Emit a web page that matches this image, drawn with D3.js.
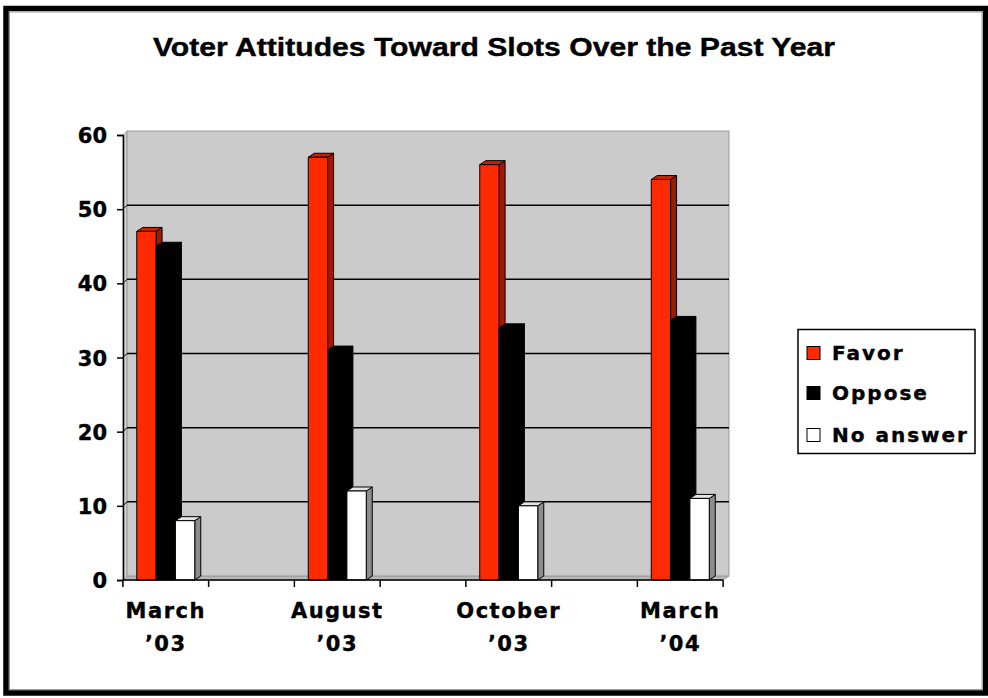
<!DOCTYPE html>
<html>
<head>
<meta charset="utf-8">
<script src="https://cdn.jsdelivr.net/npm/d3@7"></script>
<style>
	body { margin: 0; background: #fff; }
	text { font-family: "DejaVu Sans", sans-serif; font-weight: bold; fill: #000; stroke: #000; stroke-width: 0.4px; }
</style>
</head>
<body>
<svg id="main-svg" width="988" height="698"></svg>
<script>
// chart data
const categories = ['March|\u201903', 'August|\u201903', 'October|\u201903', 'March|\u201904'];
const seriesNames = ['Favor', 'Oppose', 'No answer'];
const favor = [47, 57, 56, 54];
const oppose = [45, 31, 34, 35];
const noAnswer = [8, 12, 10, 11];
const yTicks = [0, 10, 20, 30, 40, 50, 60];

const seriesValues = [favor, oppose, noAnswer];
const front = ['#ff2a00', '#000000', '#ffffff'];
const side = ['#a01a00', '#000000', '#8c8c8c'];
const top_ = ['#c82000', '#000000', '#e4e4e4'];

const svg = d3.select('#main-svg');

// outer frame
svg.append('rect')
	.attr('x', 6).attr('y', 8.5).attr('width', 979.5).attr('height', 684.5)
	.attr('fill', 'none').attr('stroke', '#000').attr('stroke-width', 5.5);
svg.append('rect')
	.attr('x', 9.5).attr('y', 12).attr('width', 972.5).attr('height', 677.5)
	.attr('fill', 'none').attr('stroke', '#999').attr('stroke-width', 1);

svg.append('text')
	.attr('x', 494).attr('y', 56)
	.attr('text-anchor', 'middle')
	.attr('font-size', 26)
	.style('font-family', '"Liberation Sans", Arial, sans-serif')
	.attr('textLength', 682).attr('lengthAdjust', 'spacingAndGlyphs')
	.text('Voter Attitudes Toward Slots Over the Past Year');

// scales
const y = d3.scaleLinear().domain([0, 60]).range([580, 135]);
const x = d3.scaleBand().domain(categories).range([80, 766]);
const inner = d3.scaleBand().domain(seriesNames).range([0, 58]);

const ax0 = 123, ax1 = 723;
const dx = 4, dy = -4;

// walls
const wall = svg.append('g');
wall.append('polygon') // floor
	.attr('points', [[ax0, y(0)], [ax1, y(0)], [ax1 + dx + 2, y(0) + dy], [ax0 + dx, y(0) + dy]].join(' '))
	.attr('fill', '#b8b8b8').attr('stroke', '#999').attr('stroke-width', 1);
wall.append('polygon') // left side wall
	.attr('points', [[ax0, y(0)], [ax0, y(60)], [ax0 + dx, y(60) + dy], [ax0 + dx, y(0) + dy]].join(' '))
	.attr('fill', '#d4d4d4').attr('stroke', '#aaa').attr('stroke-width', 1);
wall.append('rect') // back wall
	.attr('x', ax0 + dx).attr('y', y(60) + dy)
	.attr('width', ax1 + dx + 2 - (ax0 + dx)).attr('height', y(0) - y(60))
	.attr('fill', '#cbcbcb').attr('stroke', '#999').attr('stroke-width', 1);

// gridlines
const grid = yTicks.filter(v => v > 0 && v < 60);
wall.selectAll('.grid')
	.data(grid)
	.enter().append('line')
	.attr('x1', ax0 + dx).attr('x2', ax1 + dx + 2)
	.attr('y1', d => y(d) + dy).attr('y2', d => y(d) + dy)
	.attr('stroke', '#000').attr('stroke-width', 1.5);
wall.selectAll('.diag')
	.data(grid)
	.enter().append('line')
	.attr('x1', ax0).attr('x2', ax0 + dx)
	.attr('y1', d => y(d)).attr('y2', d => y(d) + dy)
	.attr('stroke', '#000').attr('stroke-width', 1);

// bars
const bars = svg.append('g');
categories.forEach((c, i) => {
	seriesNames.forEach((s, k) => {
		const v = seriesValues[k][i];
		const x0 = x(c) + (x.bandwidth() - inner.range()[1]) / 2 + inner(s);
		const w = inner.bandwidth();
		const yt = y(v), yb = y(0);
		const bdx = 6, bdy = -4;
		const g = bars.append('g').attr('stroke', '#000').attr('stroke-width', 1).attr('stroke-linejoin', 'round');
		g.append('polygon') // side
			.attr('points', [[x0 + w, yb], [x0 + w, yt], [x0 + w + bdx, yt + bdy], [x0 + w + bdx, yb + bdy]].join(' '))
			.attr('fill', side[k]);
		g.append('polygon') // top
			.attr('points', [[x0, yt], [x0 + w, yt], [x0 + w + bdx, yt + bdy], [x0 + bdx, yt + bdy]].join(' '))
			.attr('fill', top_[k]);
		g.append('rect') // front
			.attr('x', x0).attr('y', yt).attr('width', w).attr('height', yb - yt)
			.attr('fill', front[k]);
	});
});

// y axis
const yAxis = svg.append('g')
	.attr('transform', `translate(${ax0},0)`)
	.call(d3.axisLeft(y).tickValues(yTicks).tickSize(6).tickPadding(10));
yAxis.selectAll('path').attr('stroke', '#000').attr('stroke-width', 1.5);
yAxis.selectAll('line').attr('stroke', '#000').attr('stroke-width', 1.5);
yAxis.selectAll('text')
	.attr('font-size', 21)
	.style('font-family', '"DejaVu Sans", sans-serif')
	.style('font-weight', 'bold')
	.attr('dy', '0.36em');

// x axis
const xAxis = svg.append('g');
xAxis.append('line')
	.attr('x1', ax0).attr('x2', ax1).attr('y1', y(0)).attr('y2', y(0))
	.attr('stroke', '#000').attr('stroke-width', 1.5);
const xTicks = [];
categories.forEach(c => {
	xTicks.push(x(c) + x.bandwidth() / 4, x(c) + x.bandwidth() * 3 / 4);
});
xAxis.selectAll('.xt')
	.data(xTicks)
	.enter().append('line')
	.attr('x1', d => d).attr('x2', d => d)
	.attr('y1', y(0)).attr('y2', y(0) + 7)
	.attr('stroke', '#000').attr('stroke-width', 1.5);
const labels = xAxis.selectAll('.xl')
	.data(categories)
	.enter().append('text')
	.attr('text-anchor', 'middle')
	.attr('font-size', 21)
	.style('letter-spacing', '1.5px');
labels.append('tspan')
	.attr('x', d => x(d) + x.bandwidth() / 2)
	.attr('y', 618)
	.text(d => d.split('|')[0]);
labels.append('tspan')
	.attr('x', d => x(d) + x.bandwidth() / 2)
	.attr('y', 651)
	.text(d => d.split('|')[1]);

// legend
const legend = svg.append('g');
legend.append('rect')
	.attr('x', 798).attr('y', 329.5).attr('width', 177).attr('height', 124)
	.attr('fill', '#fff').attr('stroke', '#000').attr('stroke-width', 1.5);
const ly = [353, 393, 435];
const items = legend.selectAll('.item')
	.data(seriesNames)
	.enter().append('g')
	.attr('transform', (d, i) => `translate(807,${ly[i]})`);
items.append('rect')
	.attr('x', 0).attr('y', -6.5).attr('width', 13).attr('height', 13)
	.attr('fill', (d, i) => front[i]).attr('stroke', '#000').attr('stroke-width', 1);
items.append('text')
	.attr('x', 25).attr('dy', '0.36em')
	.attr('font-size', 20)
	.style('letter-spacing', '2px')
	.text(d => d);
</script>
</body>
</html>
